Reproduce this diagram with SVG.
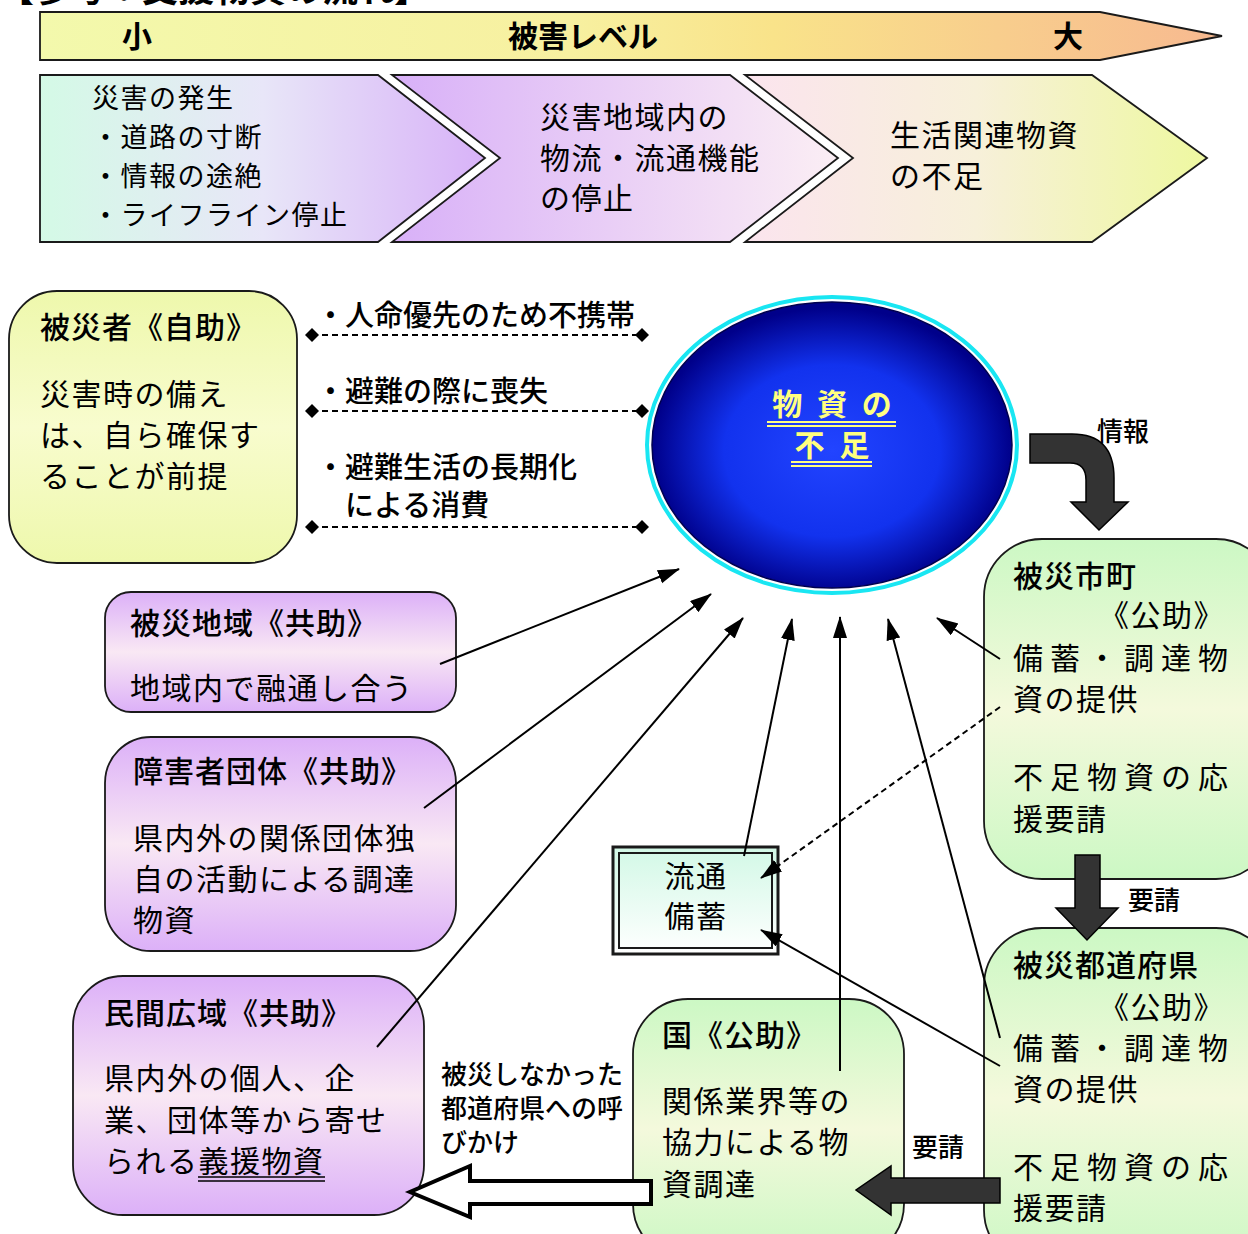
<svg xmlns="http://www.w3.org/2000/svg" width="1248" height="1234" viewBox="0 0 1248 1234">
<defs>
<style>
text{font-family:"Noto Sans CJK JP","Noto Sans",sans-serif;fill:#000}
.b{font-size:30px;letter-spacing:1.5px}
.c{font-size:27px;letter-spacing:1.5px}
.j{font-size:30px;letter-spacing:7px}
.h{font-size:30px;font-weight:500;letter-spacing:1px}
.hb{font-size:30px;font-weight:bold}
.lab{font-size:29px;font-weight:500}
.sm{font-size:26px;font-weight:500}
.box{stroke:#1a1a1a;stroke-width:1.8}
.con{fill:none;stroke:#000;stroke-width:2}
.dash{fill:none;stroke:#000;stroke-width:2;stroke-dasharray:6 4}
.fat{fill:#333;stroke:#000;stroke-width:1.5}
.yl{stroke:#ffff80;stroke-width:2}
</style>
<linearGradient id="gBanner" x1="0" y1="0" x2="1" y2="0">
<stop offset="0" stop-color="#f3f9ac"/><stop offset="0.45" stop-color="#f7f0a0"/><stop offset="0.62" stop-color="#f9e38a"/><stop offset="1" stop-color="#f7b990"/>
</linearGradient>
<linearGradient id="gC1" x1="0" y1="0" x2="1" y2="0">
<stop offset="0" stop-color="#d4fae6"/><stop offset="0.5" stop-color="#e8e6f8"/><stop offset="1" stop-color="#d8b2f8"/>
</linearGradient>
<linearGradient id="gC2" x1="0" y1="0" x2="1" y2="0">
<stop offset="0" stop-color="#d8b0f8"/><stop offset="1" stop-color="#fbeef4"/>
</linearGradient>
<linearGradient id="gC3" x1="0" y1="0" x2="1" y2="0">
<stop offset="0" stop-color="#fbe4ee"/><stop offset="0.5" stop-color="#f7f0da"/><stop offset="1" stop-color="#eef8a0"/>
</linearGradient>
<linearGradient id="gP" x1="0" y1="0" x2="0" y2="1">
<stop offset="0" stop-color="#dcb0f8"/><stop offset="0.5" stop-color="#f9e8f4"/><stop offset="1" stop-color="#dcb0f8"/>
</linearGradient>
<linearGradient id="gG" x1="0" y1="0" x2="0" y2="1">
<stop offset="0" stop-color="#ccf8c4"/><stop offset="0.5" stop-color="#f4f9dc"/><stop offset="1" stop-color="#ccf8c4"/>
</linearGradient>
<linearGradient id="gY" x1="0" y1="0" x2="0" y2="1">
<stop offset="0" stop-color="#eef8ac"/><stop offset="0.5" stop-color="#f8fcce"/><stop offset="1" stop-color="#eef8ac"/>
</linearGradient>
<linearGradient id="gM" x1="0" y1="0" x2="0" y2="1">
<stop offset="0" stop-color="#d2f8e6"/><stop offset="1" stop-color="#ffffff"/>
</linearGradient>
<radialGradient id="gBlue" cx="0.5" cy="0.52" r="0.5">
<stop offset="0" stop-color="#2244ff"/><stop offset="0.6" stop-color="#1232ee"/><stop offset="1" stop-color="#00008a"/>
</radialGradient>
<marker id="ah" markerUnits="userSpaceOnUse" markerWidth="22" markerHeight="16" refX="21" refY="7" orient="auto">
<path d="M0,0 L22,7 L0,14 z" fill="#000"/>
</marker>
<marker id="dm" markerUnits="userSpaceOnUse" markerWidth="14" markerHeight="14" refX="7" refY="7" orient="auto">
<path d="M0,7 L7,0 L14,7 L7,14 z" fill="#000"/>
</marker>
</defs>

<text x="-2" y="2" style="font-size:36px;font-weight:bold">【参考：支援物資の流れ】</text>

<g id="banner">
<polygon class="box" points="40,12 1100,12 1222,36 1100,60 40,60" fill="url(#gBanner)"/>
<text class="hb" x="137" y="47" text-anchor="middle">小</text>
<text class="hb" x="508" y="47">被害レベル</text>
<text class="hb" x="1053" y="47">大</text>
</g>

<g id="stage1">
<polygon class="box" points="40,75 378,75 485,158 378,242 40,242" fill="url(#gC1)"/>
<text class="c" x="92" y="108">災害の発生</text>
<text class="c" x="92" y="147">・道路の寸断</text>
<text class="c" x="92" y="186">・情報の途絶</text>
<text class="c" x="92" y="225">・ライフライン停止</text>
</g>
<g id="stage2">
<polygon class="box" points="392,75 730,75 838,158 730,242 392,242 500,158" fill="url(#gC2)"/>
<text class="b" x="540" y="128">災害地域内の</text>
<text class="b" x="540" y="169">物流・流通機能</text>
<text class="b" x="540" y="209">の停止</text>
</g>
<g id="stage3">
<polygon class="box" points="745,75 1092,75 1207,158 1092,242 745,242 853,158" fill="url(#gC3)"/>
<text class="b" x="890" y="146">生活関連物資</text>
<text class="b" x="890" y="187">の不足</text>
</g>

<g id="hisaisha">
<rect class="box" x="9" y="291" width="288" height="272" rx="48" fill="url(#gY)"/>
<text class="h" x="40" y="338">被災者《自助》</text>
<text class="b" x="40" y="405">災害時の備え</text>
<text class="b" x="40" y="446">は、自ら確保す</text>
<text class="b" x="40" y="487">ることが前提</text>
</g>

<g id="busshi">
<ellipse cx="832" cy="445" rx="185" ry="148" fill="none" stroke="#19e6f2" stroke-width="4"/>
<ellipse cx="832" cy="445" rx="180" ry="143" fill="url(#gBlue)" stroke="#000050" stroke-width="1.5"/>
<text x="834" y="415" text-anchor="middle" style="font-size:30px;font-weight:bold;fill:#ffff80;letter-spacing:4px">物 資 の</text>
<text x="834" y="456" text-anchor="middle" style="font-size:30px;font-weight:bold;fill:#ffff80;letter-spacing:4px">不 足</text>
<line class="yl" x1="767" y1="422" x2="896" y2="422"/>
<line class="yl" x1="767" y1="426" x2="896" y2="426"/>
<line class="yl" x1="791" y1="462" x2="872" y2="462"/>
<line class="yl" x1="791" y1="466" x2="872" y2="466"/>
</g>

<g id="hisai-chiiki">
<rect class="box" x="105" y="592" width="351" height="120" rx="26" fill="url(#gP)"/>
<text class="h" x="130" y="634">被災地域《共助》</text>
<text class="b" x="130" y="699">地域内で融通し合う</text>
</g>

<g id="shogaisha">
<rect class="box" x="105" y="737" width="351" height="214" rx="46" fill="url(#gP)"/>
<text class="h" x="133" y="782">障害者団体《共助》</text>
<text class="b" x="133" y="849">県内外の関係団体独</text>
<text class="b" x="133" y="890">自の活動による調達</text>
<text class="b" x="133" y="931">物資</text>
</g>

<g id="minkan">
<rect class="box" x="73" y="976" width="351" height="239" rx="50" fill="url(#gP)"/>
<text class="h" x="104" y="1024">民間広域《共助》</text>
<text class="b" x="104" y="1089">県内外の個人、企</text>
<text class="b" x="104" y="1131">業、団体等から寄せ</text>
<text class="b" x="104" y="1172">られる<tspan>義援物資</tspan></text>
<line x1="198" y1="1177" x2="325" y2="1177" stroke="#000" stroke-width="1.5"/>
<line x1="198" y1="1181" x2="325" y2="1181" stroke="#000" stroke-width="1.5"/>
</g>

<g id="ryutsu">
<rect x="613" y="847" width="165" height="107" fill="url(#gM)" stroke="#1a1a1a" stroke-width="3"/>
<rect x="619" y="853" width="153" height="95" fill="none" stroke="#1a1a1a" stroke-width="2"/>
<text class="b" x="696" y="887" text-anchor="middle">流通</text>
<text class="b" x="696" y="927" text-anchor="middle">備蓄</text>
</g>

<g id="kuni">
<rect class="box" x="633" y="999" width="271" height="260" rx="55" fill="url(#gG)"/>
<text class="h" x="662" y="1046">国《公助》</text>
<text class="b" x="662" y="1112">関係業界等の</text>
<text class="b" x="662" y="1153">協力による物</text>
<text class="b" x="662" y="1195">資調達</text>
</g>

<g id="shicho">
<rect class="box" x="984" y="539" width="290" height="340" rx="58" fill="url(#gG)"/>
<text class="h" x="1013" y="587">被災市町</text>
<text class="b" x="1099" y="626">《公助》</text>
<text class="j" x="1013" y="669">備蓄・調達物</text>
<text class="b" x="1013" y="710">資の提供</text>
<text class="j" x="1013" y="788">不足物資の応</text>
<text class="b" x="1013" y="830">援要請</text>
</g>

<g id="todofuken">
<rect class="box" x="984" y="928" width="290" height="340" rx="58" fill="url(#gG)"/>
<text class="h" x="1013" y="976">被災都道府県</text>
<text class="b" x="1099" y="1018">《公助》</text>
<text class="j" x="1013" y="1059">備蓄・調達物</text>
<text class="b" x="1013" y="1100">資の提供</text>
<text class="j" x="1013" y="1178">不足物資の応</text>
<text class="b" x="1013" y="1219">援要請</text>
</g>

<g id="connectors">
<line class="dash" x1="312" y1="335" x2="642" y2="335" marker-start="url(#dm)" marker-end="url(#dm)"/>
<line class="dash" x1="312" y1="411" x2="642" y2="411" marker-start="url(#dm)" marker-end="url(#dm)"/>
<line class="dash" x1="312" y1="527" x2="642" y2="527" marker-start="url(#dm)" marker-end="url(#dm)"/>
<text class="lab" x="316" y="326">・人命優先のため不携帯</text>
<text class="lab" x="316" y="402">・避難の際に喪失</text>
<text class="lab" x="316" y="478">・避難生活の長期化</text>
<text class="lab" x="345" y="516">による消費</text>

<line class="con" x1="440" y1="664" x2="679" y2="569" marker-end="url(#ah)"/>
<line class="con" x1="424" y1="808" x2="711" y2="594" marker-end="url(#ah)"/>
<line class="con" x1="377" y1="1047" x2="743" y2="618" marker-end="url(#ah)"/>
<line class="con" x1="744" y1="856" x2="792" y2="619" marker-end="url(#ah)"/>
<line class="con" x1="840" y1="1071" x2="840" y2="617" marker-end="url(#ah)"/>
<line class="con" x1="1000" y1="1038" x2="888" y2="619" marker-end="url(#ah)"/>
<line class="con" x1="1000" y1="659" x2="937" y2="618" marker-end="url(#ah)"/>
<line class="dash" x1="1000" y1="707" x2="761" y2="878" marker-end="url(#ah)"/>
<line class="con" x1="1000" y1="1066" x2="761" y2="930" marker-end="url(#ah)"/>

<path class="fat" d="M1030,434 L1072,434 Q1114,434 1114,478 L1114,502 L1128,502 L1099,530 L1071,502 L1086,502 L1086,480 Q1086,463 1070,463 L1030,463 Z"/>
<text class="sm" x="1097" y="441">情報</text>

<path class="fat" d="M1075,855 L1100,855 L1100,908 L1118,908 L1087,940 L1056,908 L1075,908 Z"/>
<text class="sm" x="1128" y="910">要請</text>

<path class="fat" d="M1000,1178 L1000,1203 L891,1203 L891,1215 L856,1190 L891,1166 L891,1178 Z"/>
<text class="sm" x="912" y="1157">要請</text>

<path d="M651,1181 L651,1204 L470,1204 L470,1217 L410,1192 L470,1166 L470,1181 Z" fill="#fff" stroke="#000" stroke-width="4" stroke-linejoin="miter"/>
<text class="sm" x="441" y="1084">被災しなかった</text>
<text class="sm" x="441" y="1118">都道府県への呼</text>
<text class="sm" x="441" y="1152">びかけ</text>
</g>
</svg>
